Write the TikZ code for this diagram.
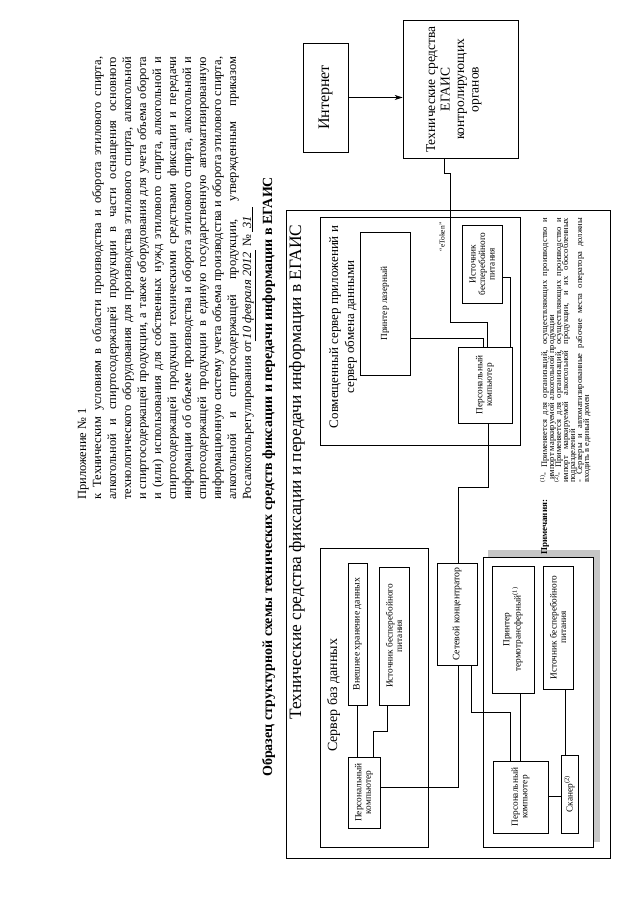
\documentclass[tikz,border=0pt]{standalone}
\usepackage{fontspec}
\setmainfont{Liberation Serif}
\usetikzlibrary{arrows.meta}
\tikzset{
  box/.style={draw, line width=0.7pt, inner sep=1pt, align=center, font=\fontsize{9.3}{9.5}\selectfont},
  frame/.style={draw, line width=0.8pt},
  wire/.style={draw, line width=0.6pt},
  hl/.style={anchor=base west, inner sep=0pt, font=\fontsize{12.5}{15}\selectfont},
  nl/.style={anchor=base west, inner sep=0pt, font=\fontsize{8.5}{7}\selectfont},
}
\newcommand\jl[1]{\makebox[443pt][s]{#1}}
\newcommand\jn[1]{\makebox[265pt][s]{#1}}
\begin{document}
\begin{tikzpicture}[x=1pt,y=1pt]
\useasboundingbox (0,0) rectangle (640,905);
\fill[white] (0,0) rectangle (640,905);
\begin{scope}[shift={(640,0)}, rotate=90, transform shape]
% header
\node[hl] (h1) at (405,554) {Приложение № 1};
\node[hl] (h2) at (405,539) {\jl{к Техническим условиям в области производства и оборота этилового спирта,}};
\node[hl] (h3) at (405,524) {\jl{алкогольной и спиртосодержащей продукции в части оснащения основного}};
\node[hl] (h4) at (405,509) {\jl{технологического оборудования для производства этилового спирта, алкогольной}};
\node[hl] (h5) at (405,494) {\jl{и спиртосодержащей продукции, а также оборудования для учета объема оборота}};
\node[hl] (h6) at (405,479) {\jl{и (или) использования для собственных нужд этилового спирта, алкогольной и}};
\node[hl] (h7) at (405,464) {\jl{спиртосодержащей продукции техническими средствами фиксации и передачи}};
\node[hl] (h8) at (405,449) {\jl{информации об объеме производства и оборота этилового спирта, алкогольной и}};
\node[hl] (h9) at (405,434) {\jl{спиртосодержащей продукции в единую государственную автоматизированную}};
\node[hl] (h10) at (405,419) {\jl{информационную систему учета объема производства и оборота этилового спирта,}};
\node[hl] (h11) at (405,404) {\jl{алкогольной и спиртосодержащей продукции, утвержденным приказом}};
\node[hl] (h12) at (405,389) {Росалкогольрегулирования от\underline{\textit{\,10 февраля 2012\,}} № \underline{\textit{\ 31\ \ \ }}};
% title
\node[anchor=base west, inner sep=0pt, font=\bfseries\fontsize{14}{17}\selectfont] (title) at (128,368) {Образец структурной схемы технических средств фиксации и передачи информации в ЕГАИС};
% top boxes
\node[box, minimum width=109pt, minimum height=45pt, font=\fontsize{16}{18}\selectfont] (inet) at (807.5,314.5) {Интернет};
\node[draw, line width=0.7pt, minimum width=138pt, minimum height=115pt] (egais) at (816,179.5) {};
\node[align=center, inner sep=0pt, font=\fontsize{13.5}{14.5}\selectfont] (egaisT) at (815.5,186) {Технические средства\\ЕГАИС\\контролирующих\\органов};
\draw[wire, -{Stealth[length=8pt,width=5pt]}] (inet.south) -- (inet.south |- egais.north);
% outer frame
\draw[frame] (47,30) rectangle (695,354);
\node[anchor=base west, inner sep=0pt, font=\fontsize{17.4}{20}\selectfont] (otitle) at (185,339) {Технические средства фиксации и передачи информации в ЕГАИС};
% combined server
\draw[frame] (460,120) rectangle (688,320);
\node[align=center, inner sep=0pt, font=\fontsize{13}{16}\selectfont] (stitle) at (578,297) {Совмещенный сервер приложений и\\сервер обмена данными};
\node[box, minimum width=143pt, minimum height=50pt] (printL) at (601.5,255) {Принтер лазерный};
\node[box, minimum width=78pt, minimum height=40pt] (upsS) at (641,158) {Источник\\бесперебойного\\питания};
\node[box, minimum width=76pt, minimum height=54pt] (pcS) at (520,155) {Персональный\\компьютер};
\node[inner sep=0pt, font=\fontsize{7.5}{8}\selectfont] (etok) at (668,198) {“eToken”};
% network hub
\node[box, minimum width=102pt, minimum height=40pt, font=\fontsize{9.8}{10}\selectfont] (hub) at (291,183) {Сетевой концентратор};
% database server
\draw[frame] (58,212) rectangle (357,320);
\node[anchor=base west, inner sep=0pt, font=\fontsize{14}{16}\selectfont] (dtitle) at (153,303) {Сервер баз данных};
\node[box, minimum width=142pt, minimum height=19pt, font=\fontsize{9.8}{10}\selectfont] (ext) at (271,282.5) {Внешнее хранение данных};
\node[box, minimum width=138pt, minimum height=30pt] (upsD) at (269,246) {Источник бесперебойного\\питания};
\node[box, minimum width=71pt, minimum height=32pt] (pcD) at (112.5,276) {Персональный\\компьютер};
% workstation with shadow
\fill[gray!45] (348,40) rectangle (355,152);
\fill[gray!45] (63,40) rectangle (355,47);
\draw[frame] (58,47) rectangle (348,157);
\node[box, minimum width=127pt, minimum height=42pt] (printT) at (275.5,127) {Принтер\\термотрансферный\textsuperscript{(1)}};
\node[box, minimum width=123pt, minimum height=30pt] (upsH) at (277.5,82) {Источник бесперебойного\\питания};
\node[box, minimum width=72pt, minimum height=55pt] (pcH) at (108,119.5) {Персональный\\компьютер};
\node[box, minimum width=78pt, minimum height=17pt] (scan) at (111,70.5) {Сканер\textsuperscript{(2)}};
% notes
\node[anchor=base west, inner sep=0pt, font=\bfseries\fontsize{9}{7}\selectfont] (ntitle) at (350,93) {Примечания:};
\node[nl] (n1) at (422,93) {\jn{\textsuperscript{(1)}- Применяется для организаций, осуществляющих производство и}};
\node[nl] (n2) at (425,86) {импорт маркируемой алкогольной продукции};
\node[nl] (n3) at (422,79) {\jn{\textsuperscript{(2)}- Применяется для организаций, осуществляющих производство и}};
\node[nl] (n4) at (422,72) {\jn{импорт маркируемой алкогольной продукции, и их обособленных}};
\node[nl] (n5) at (422,65) {подразделений};
\node[nl] (n6) at (422,58) {\jn{- Серверы и автоматизированные рабочие места оператора должны}};
\node[nl] (n7) at (422,51) {входить в единый домен};
% connectors
\draw[wire] (egais.west |- 0,196) -- (732,196) -- (732,190) -- (583,190) -- (583,153) -- (pcS.east |- 0,153);
\draw[wire] (printL.south -| 567,0) -- (567,157) -- (pcS.east |- 0,157);
\draw[wire] (upsS.south -| 628,0) -- (628,130) -- (pcS.east |- 0,130);
\draw[wire] (pcS.west |- 0,152) -- (418,152) -- (418,182) -- (hub.east |- 0,182);
\draw[wire] (ext.west |- 0,283) -- (pcD.east |- 0,283);
\draw[wire] (upsD.west |- 0,253) -- (174,253) -- (174,267) -- (pcD.east |- 0,267);
\draw[wire] (pcD.south -| 118,0) -- (118,182) -- (hub.west |- 0,182);
\draw[wire] (hub.west |- 0,169) -- (193,169) -- (193,130) -- (pcH.east |- 0,130);
\draw[wire] (printT.west |- 0,120) -- (pcH.east |- 0,120);
\draw[wire] (upsH.west |- 0,75) -- (scan.east |- 0,75);
\draw[wire] (pcH.south -| 109,0) -- (scan.north -| 109,0);
\end{scope}
\end{tikzpicture}
\end{document}
